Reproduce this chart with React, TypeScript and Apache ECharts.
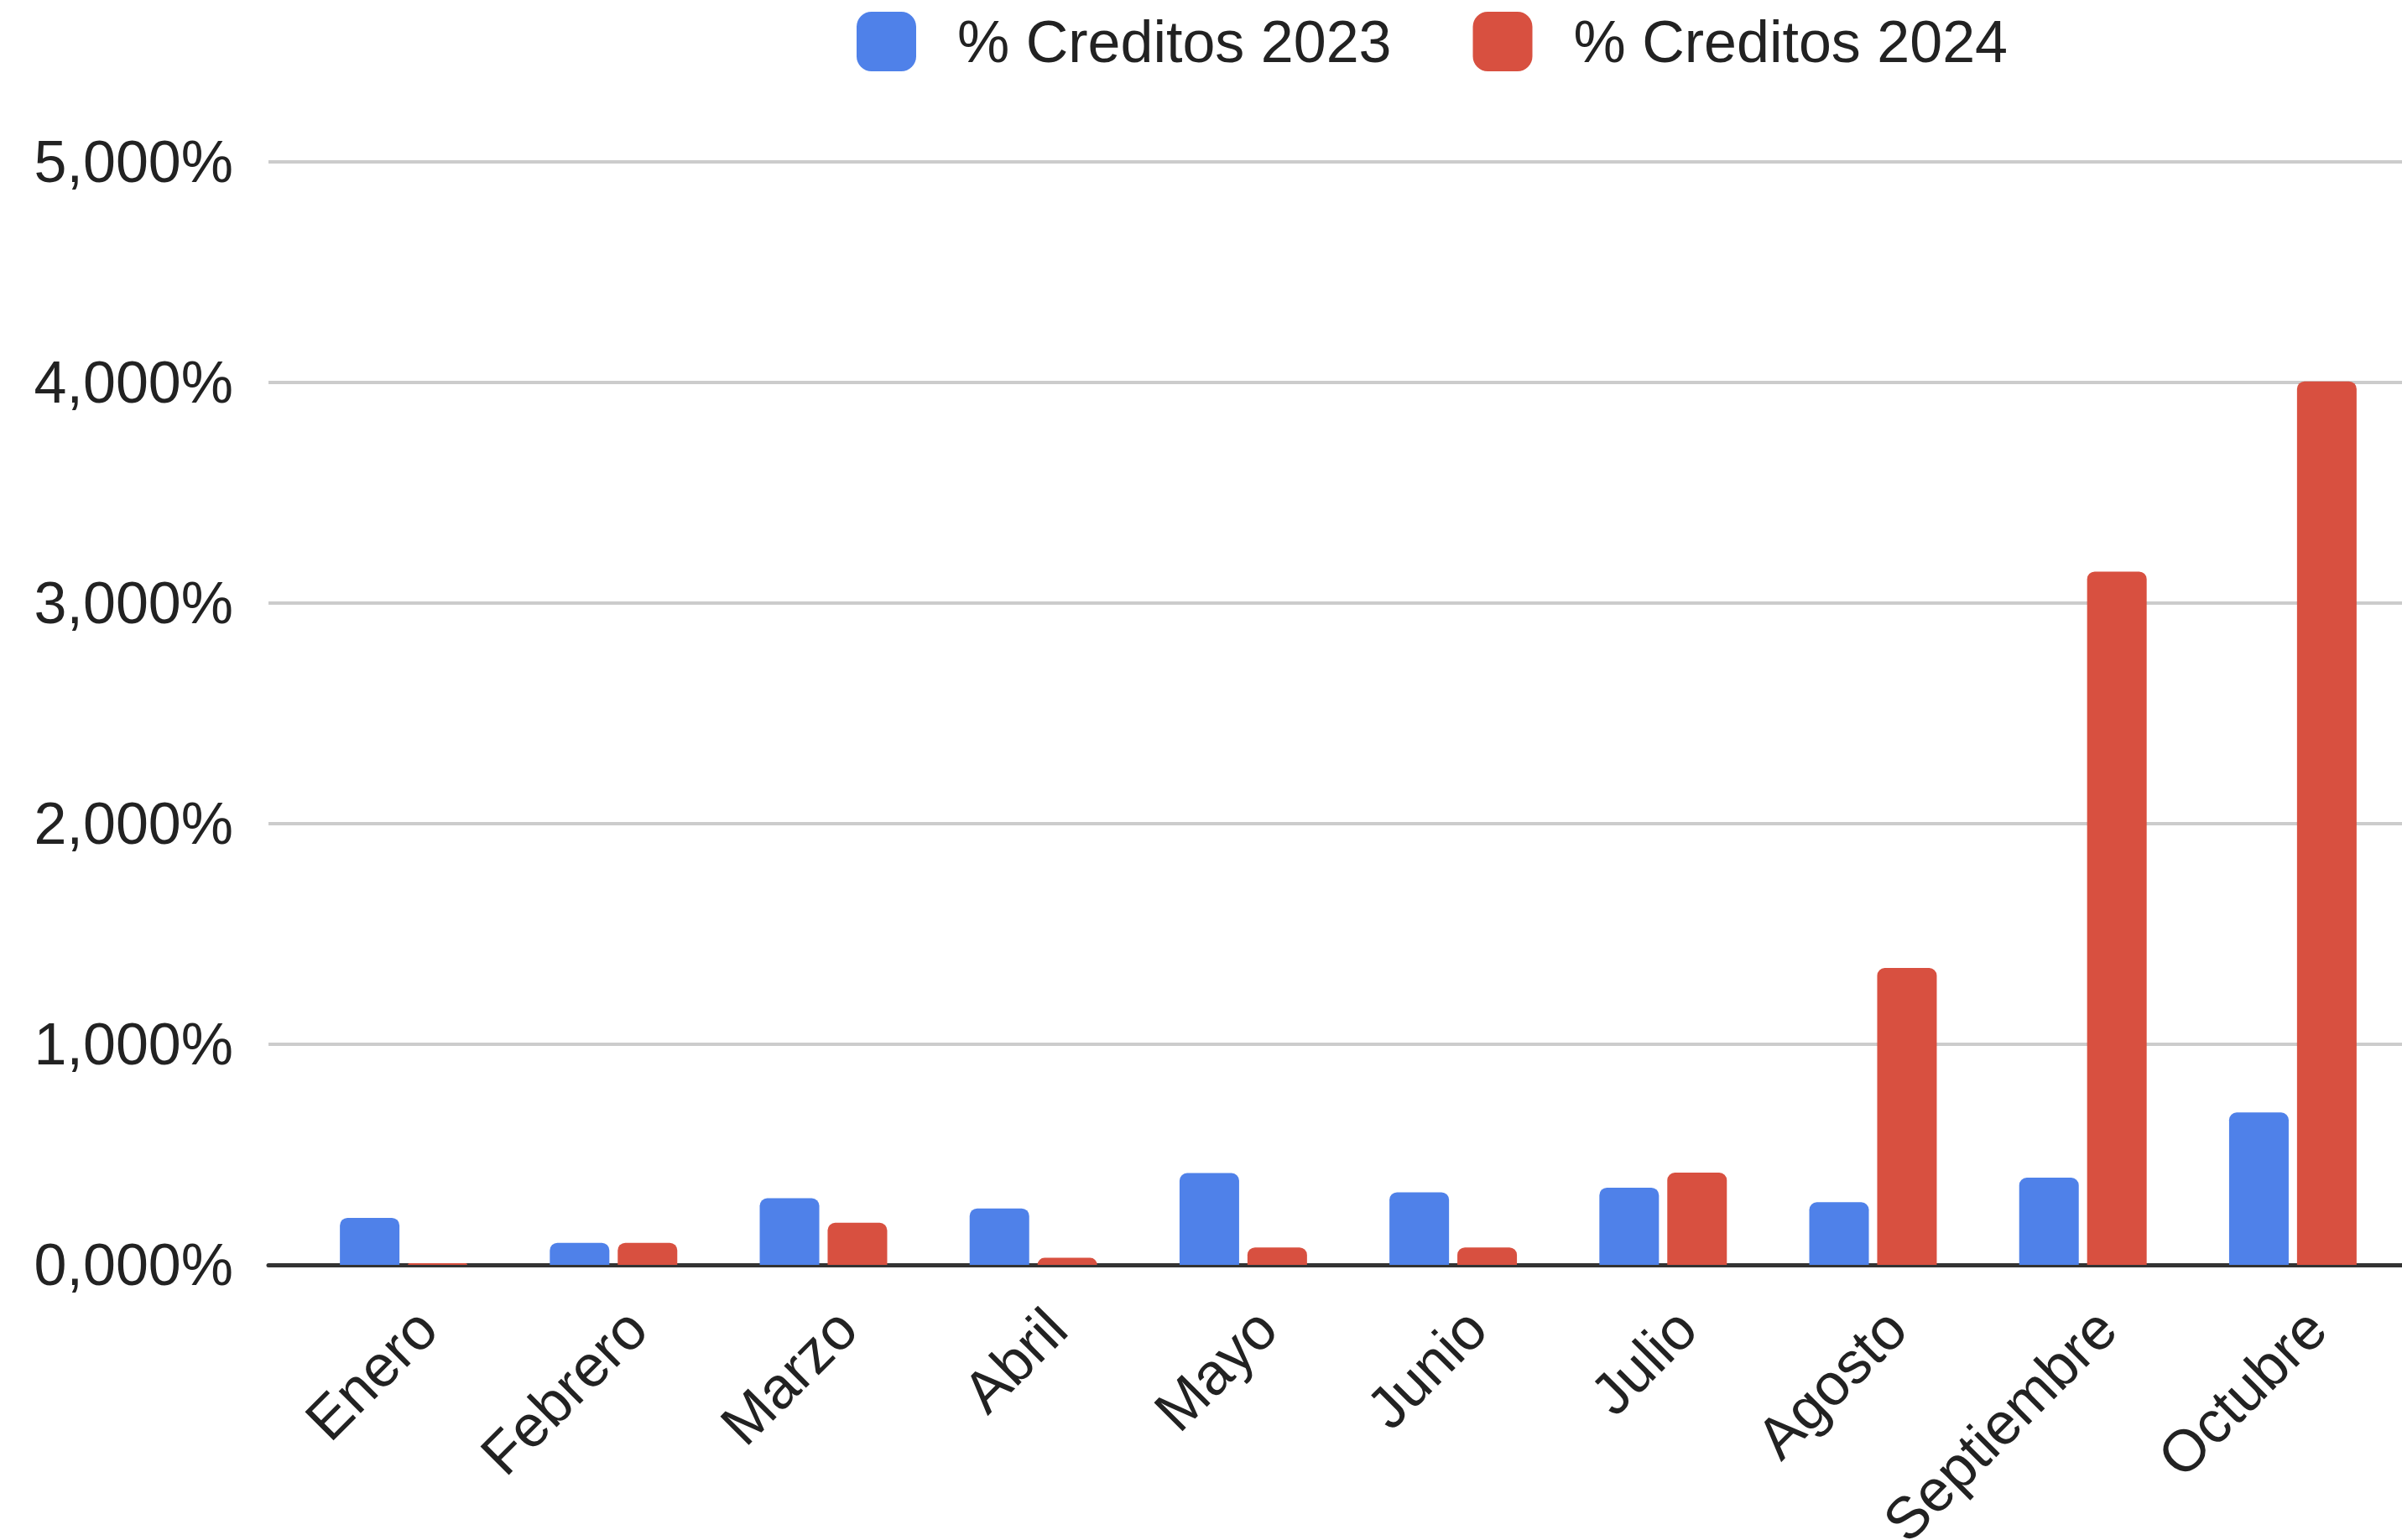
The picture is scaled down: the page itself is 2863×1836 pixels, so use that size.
import React, { useEffect, useRef } from "react";
import * as echarts from "echarts";

const categories = ["Enero", "Febrero", "Marzo", "Abril", "Mayo", "Junio", "Julio", "Agosto", "Septiembre", "Octubre"];
const creditos2023 = [213, 100, 302, 256, 416, 329, 350, 284, 395, 691];
const creditos2024 = [8, 100, 191, 32, 79, 79, 418, 1346, 3143, 4005];
const seriesNames = ["% Creditos 2023", "% Creditos 2024"];
const yMin = 0;
const yMax = 5000;
const yInterval = 1000;

const FONT = "'Liberation Sans', Arial, sans-serif";
const TEXT = "#222222";

function fmt(v: number): string {
  const k = Math.floor(v / 1000);
  const r = Math.round(v % 1000);
  return `${k},${String(r).padStart(3, "0")}%`;
}

export default function App() {
  const ref = useRef<HTMLDivElement>(null);
  useEffect(() => {
    document.body.style.margin = "0";
    if (!ref.current) return;
    const chart = echarts.init(ref.current, undefined, { renderer: "svg" });
    chart.setOption({
      animation: false,
      backgroundColor: "#ffffff",
      color: ["#4f81e9", "#d85040"],
      legend: {
        left: 1016,
        top: 9,
        itemWidth: 71,
        itemHeight: 71,
        itemGap: 97,
        icon: "roundRect",
        data: seriesNames,
        textStyle: { fontSize: 70, color: TEXT, fontFamily: FONT, padding: [0, 0, 0, 44] },
      },
      grid: [
        { left: 320, right: 0, top: 193, bottom: 328, outerBoundsMode: "none", containLabel: false },
        { left: 356, right: 5, top: 193, bottom: 328, outerBoundsMode: "none", containLabel: false },
      ],
      xAxis: [
        {
          type: "category",
          gridIndex: 0,
          data: categories,
          axisLine: { show: true, lineStyle: { color: "#333333", width: 5 } },
          axisTick: { show: false },
          axisLabel: { show: false },
          splitLine: { show: false },
        },
        {
          type: "category",
          gridIndex: 1,
          data: categories,
          axisLine: { show: false },
          axisTick: { show: false },
          axisLabel: {
            interval: 0,
            rotate: 45,
            fontSize: 70,
            color: TEXT,
            fontFamily: FONT,
            margin: 0,
            verticalAlign: "top",
            padding: [30, 26, 0, 0],
          },
        },
      ],
      yAxis: [
        {
          type: "value",
          gridIndex: 0,
          min: yMin,
          max: yMax,
          interval: yInterval,
          axisLine: { show: false },
          axisTick: { show: false },
          axisLabel: { fontSize: 70, color: TEXT, fontFamily: FONT, margin: 42, formatter: fmt },
          splitLine: { show: true, lineStyle: { color: "#cccccc", width: 4 } },
        },
        {
          type: "value",
          gridIndex: 1,
          min: yMin,
          max: yMax,
          interval: yInterval,
          axisLine: { show: false },
          axisTick: { show: false },
          axisLabel: { show: false },
          splitLine: { show: false },
        },
      ],
      series: [
        {
          name: seriesNames[0],
          type: "bar",
          xAxisIndex: 1,
          yAxisIndex: 1,
          data: creditos2023,
          barWidth: 71,
          barGap: "14%",
          itemStyle: { borderRadius: [9, 9, 0, 0] },
        },
        {
          name: seriesNames[1],
          type: "bar",
          xAxisIndex: 1,
          yAxisIndex: 1,
          data: creditos2024,
          barWidth: 71,
          barGap: "14%",
          itemStyle: { borderRadius: [9, 9, 0, 0] },
        },
      ],
    });
    return () => chart.dispose();
  }, []);
  return <div ref={ref} style={{ width: 2863, height: 1836 }} />;
}
